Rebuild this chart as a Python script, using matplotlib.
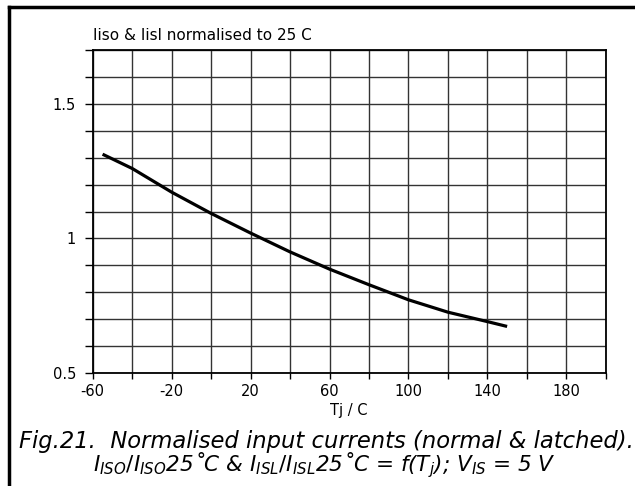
import numpy as np
import matplotlib
matplotlib.use("Agg")
import matplotlib.pyplot as plt
from matplotlib.lines import Line2D

plt.rcParams['font.family'] = ['DejaVu Sans']
plt.rcParams['mathtext.fontset'] = 'dejavusans'

# junction temperature (C) and normalised current
tj = [-55, -40, -20, 0, 20, 40, 60, 80, 100, 120, 140, 150]
i_norm = [1.313, 1.260, 1.172, 1.093, 1.020, 0.950, 0.886, 0.828, 0.772, 0.726, 0.691, 0.673]

x_labels = [-60, -20, 20, 60, 100, 140, 180]
y_labels = [0.5, 1, 1.5]

fig = plt.figure(figsize=(6.35, 4.86), dpi=100)
ax = fig.add_axes([0.146, 0.2325, 0.808, 0.6645])

ax.set_xlim(-60, 200)
ax.set_ylim(0.5, 1.7)
ax.set_xticks(np.arange(-60, 201, 20), minor=True)
ax.set_yticks(np.arange(0.5, 1.71, 0.1), minor=True)
ax.set_xticks(x_labels)
ax.set_xticklabels([str(v) for v in x_labels])
ax.set_yticks(y_labels)
ax.set_yticklabels(['0.5', '1', '1.5'])

ax.grid(True, which='both', color='0.2', lw=1.0)
ax.tick_params(axis='x', which='both', direction='out', length=4, width=1, pad=4, labelsize=10.5)
ax.tick_params(axis='y', which='both', direction='out', length=6, width=1, pad=6, labelsize=10.5)
for s in ax.spines.values():
    s.set_linewidth(1.3)

ax.plot(tj, i_norm, color='black', lw=2.3, solid_capstyle='butt')

ax.set_xlabel('Tj / C', fontsize=10.5, labelpad=3)
ax.text(0.0, 1.022, 'Iiso & Iisl normalised to 25 C', transform=ax.transAxes,
        fontsize=11, ha='left', va='bottom')

fig.text(0.514, 0.079, 'Fig.21.  Normalised input currents (normal & latched).',
         fontsize=16.3, style='italic', ha='center', va='baseline')
fig.text(0.511, 0.031,
         r'$I_{ISO}/I_{ISO}$25˚C & $I_{ISL}/I_{ISL}$25˚C = f($T_j$); $V_{IS}$ = 5 V',
         fontsize=15.5, style='italic', ha='center', va='baseline')

# page border (top and left edges)
fig.add_artist(Line2D([0.014, 0.014], [0, 0.986], color='black', lw=2.5, transform=fig.transFigure))
fig.add_artist(Line2D([0.014, 1.0], [0.986, 0.986], color='black', lw=2.5, transform=fig.transFigure))

fig.savefig('out.png', dpi=100)
